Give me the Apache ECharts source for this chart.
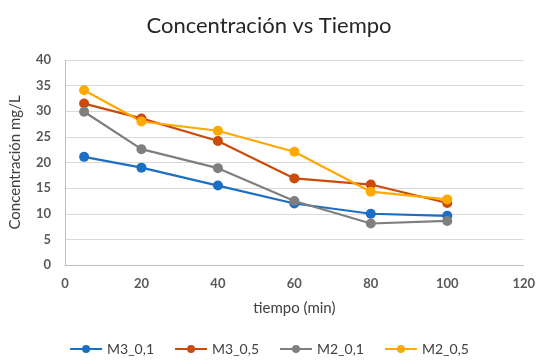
<!DOCTYPE html>
<html><head><meta charset="utf-8">
<script src="https://cdn.jsdelivr.net/npm/echarts@6/dist/echarts.min.js"></script>
<style>html,body{margin:0;padding:0;background:#fff}#c{width:538px;height:364px}</style>
</head><body><div id="c"></div>
<script>
const seriesNames = ["M3_0,1", "M3_0,5", "M2_0,1", "M2_0,5"];
const times = [5, 20, 40, 60, 80, 100];
const m3_01 = [21.1, 19.0, 15.5, 12.0, 10.0, 9.6];
const m3_05 = [31.5, 28.6, 24.2, 16.9, 15.7, 12.1];
const m2_01 = [29.9, 22.6, 18.9, 12.5, 8.1, 8.6];
const m2_05 = [34.1, 28.0, 26.2, 22.1, 14.3, 12.8];
const colors = ["#1a6fc4", "#cc4a0a", "#7f7f7f", "#ffa800"];
const allValues = [m3_01, m3_05, m2_01, m2_05];

const font = "Lato, 'Open Sans', sans-serif";
const chart = echarts.init(document.getElementById('c'));
chart.setOption({
  animation: false,
  title: {
    text: 'Concentración vs Tiempo', left: 'center', top: 10,
    textStyle: {fontFamily: font, fontSize: 22, fontWeight: 'normal', color: '#262626'}
  },
  legend: {
    bottom: 3, left: 'center', itemWidth: 32, itemHeight: 10, itemGap: 20,
    data: seriesNames,
    textStyle: {fontFamily: font, fontSize: 14, color: '#404040'}
  },
  grid: {left: 63, right: 13, top: 60, bottom: 99},
  xAxis: {
    type: 'value', min: 0, max: 120, interval: 20,
    name: 'tiempo (min)', nameLocation: 'middle', nameGap: 36,
    nameTextStyle: {fontFamily: font, fontSize: 15, color: '#404040'},
    axisLine: {show: true, lineStyle: {color: '#bfbfbf'}},
    axisTick: {show: false},
    splitLine: {show: false},
    axisLabel: {fontFamily: font, fontSize: 13, fontWeight: 'bold', color: '#595959', margin: 12}
  },
  yAxis: {
    type: 'value', min: 0, max: 40, interval: 5,
    name: 'Concentración mg/L', nameLocation: 'middle', nameGap: 42,
    nameTextStyle: {fontFamily: font, fontSize: 15, color: '#404040'},
    axisLine: {show: true, lineStyle: {color: '#bfbfbf'}},
    axisTick: {show: false},
    splitLine: {show: true, lineStyle: {color: '#d9d9d9'}},
    axisLabel: {fontFamily: font, fontSize: 13, fontWeight: 'bold', color: '#595959', margin: 14}
  },
  series: seriesNames.map((n, i) => ({
    name: n, type: 'line',
    data: times.map((t, j) => [t, allValues[i][j]]),
    symbol: 'circle', symbolSize: 10,
    lineStyle: {color: colors[i], width: 2.2},
    itemStyle: {color: colors[i]}
  }))
});
</script></body></html>
